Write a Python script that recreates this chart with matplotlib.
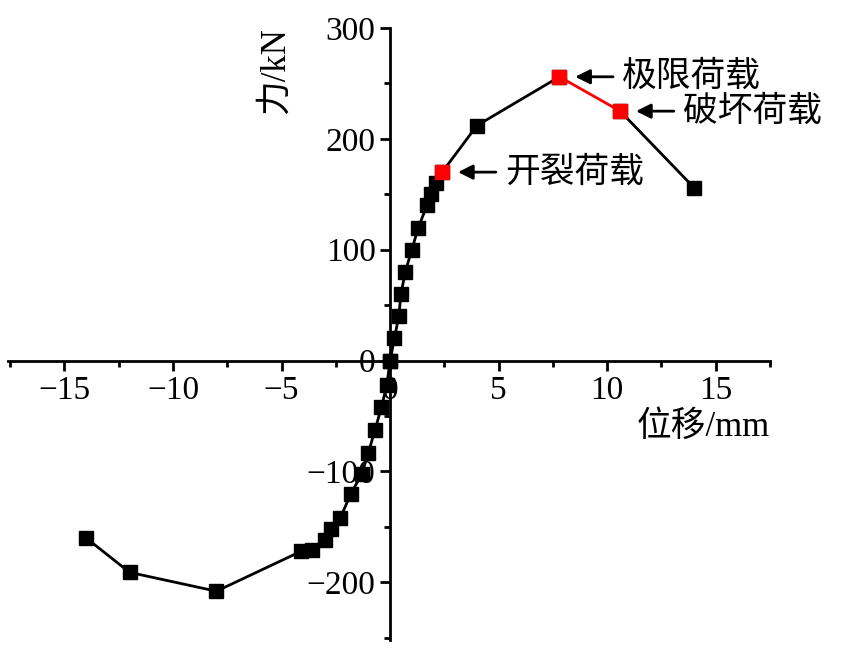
import matplotlib
matplotlib.use("Agg")
import matplotlib.pyplot as plt
from matplotlib.ticker import MultipleLocator

plt.rcParams['font.family'] = ['Liberation Serif', 'Noto Sans CJK SC']
plt.rcParams['font.size'] = 24

pos_x = [0, 0.2, 0.4, 0.5, 0.7, 1.0, 1.3, 1.7, 1.9, 2.1, 2.4, 4.0, 7.8, 10.6, 14.0]
pos_y = [0, 20, 40, 60, 80, 100, 120, 140, 150, 160, 170, 212, 256, 225, 156]
neg_x = [0, -0.15, -0.4, -0.7, -1.0, -1.3, -1.8, -2.3, -2.7, -3.0, -3.6, -4.1, -8.0, -12.0, -14.0]
neg_y = [0, -22, -42, -63, -83, -102, -120, -142, -152, -162, -171, -172, -208, -191, -160]
red_x = [2.4, 7.8, 10.6]
red_y = [170, 256, 225]
labels = ['开裂荷载', '极限荷载', '破坏荷载']

fig = plt.figure(figsize=(8.44, 6.52), dpi=100)
ax = fig.add_axes([8/844, 1-640/652, 762/844, 612/652])
ax.set_xlim(-17.6, 17.5)
ax.set_ylim(-252, 300)

ms = 10.5
ax.plot(pos_x[:13], pos_y[:13], color='black', lw=2, marker='s', ms=ms, zorder=2)
ax.plot(pos_x[12:14], pos_y[12:14], color='red', lw=2, zorder=2)
ax.plot(pos_x[13:], pos_y[13:], color='black', lw=2, marker='s', ms=ms, zorder=2)
ax.plot(neg_x, neg_y, color='black', lw=2, marker='s', ms=ms, zorder=2)
ax.plot(red_x, red_y, ls='none', marker='s', ms=ms, color='red', zorder=3)

for x, y, lab in zip(red_x, red_y, labels):
    ax.annotate('', xy=(x + 0.6, y), xytext=(x + 2.6, y),
                arrowprops=dict(arrowstyle='-|>', color='black', lw=2, mutation_scale=22))
    ax.text(x + 2.9, y, lab, va='center', ha='left', fontsize=25,
            family=['Noto Sans CJK SC'])

for s in ['top', 'right']:
    ax.spines[s].set_visible(False)
ax.spines['left'].set_position(('data', 0))
ax.spines['bottom'].set_position(('data', 0))
for s in ['left', 'bottom']:
    ax.spines[s].set_linewidth(2)

ax.xaxis.set_minor_locator(MultipleLocator(2.5))
ax.yaxis.set_minor_locator(MultipleLocator(50))
ax.tick_params(which='major', direction='out', length=7, width=2, labelsize=24)
ax.tick_params(which='minor', direction='out', length=4, width=2)
ax.set_xticks([-15, -10, -5, 0, 5, 10, 15])
ax.set_xticklabels(['\u221215', '\u221210', '\u22125', '0', '5', '10', '15'])
ax.set_yticks([-200, -100, 0, 100, 200, 300])
ax.set_yticklabels(['\u2212200', '\u2212100', '0', '100', '200', '300'])

ax.text(17.5, -60, '位移/mm', ha='right', va='center', fontsize=25,
        family=['Liberation Serif', 'Noto Sans CJK SC'])
ax.text(-5.3, 262, '力/kN', ha='center', va='center', rotation=90, fontsize=25,
        family=['Liberation Serif', 'Noto Sans CJK SC'])

fig.savefig('out.png', dpi=100)
